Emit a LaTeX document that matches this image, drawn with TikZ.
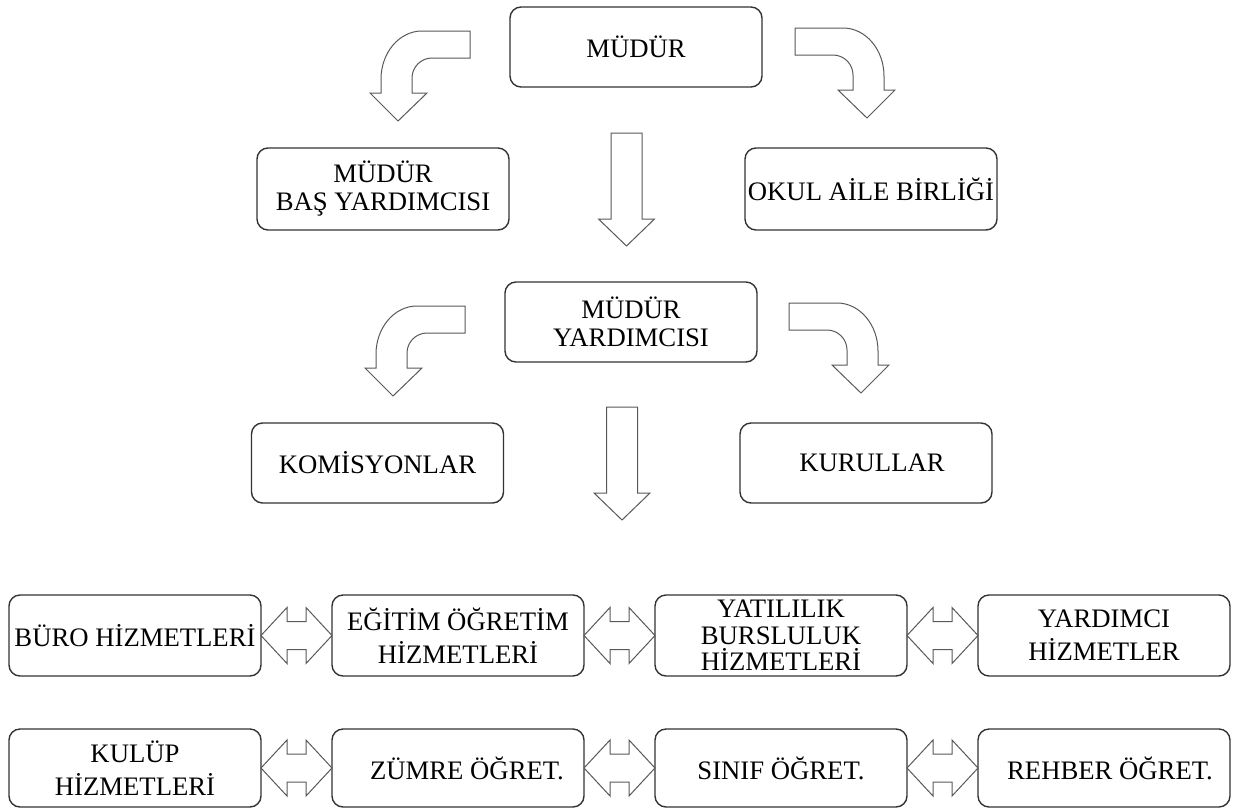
\documentclass[tikz,border=0pt]{standalone}
\usepackage{fontspec}
\setmainfont{Liberation Serif}
\usetikzlibrary{positioning,calc}

\tikzset{
  box/.style={draw=black!80, line width=1.4pt, rounded corners=11pt,
    minimum width=252pt, minimum height=81pt, inner sep=1pt, outer sep=0pt,
    align=center, font=\fontsize{26.7}{28}\selectfont},
  lowbox/.style={box, font=\fontsize{26.7}{33}\selectfont},
  blk/.style={draw=black!65, line width=1pt, fill=white, line join=miter}
}

\newcommand{\bentarr}[2][]{%
  \begin{scope}[shift={(#2)},#1]
  \draw[blk] (0,0) -- (-48,0) .. controls (-71,0) and (-89,22) .. (-89,48)
    -- (-89,62) -- (-100,62) -- (-72,90) -- (-43,62) -- (-58,62) -- (-58,47)
    .. controls (-58,36) and (-49,27) .. (-38,27) -- (0,27) -- cycle;
  \end{scope}}
\newcommand{\downarr}[1]{%
  \begin{scope}[shift={(#1)}]
  \draw[blk] (-15.5,0) -- (15.5,0) -- (15.5,86) -- (28,86) -- (0,113)
    -- (-28,86) -- (-15.5,86) -- cycle;
  \end{scope}}
\newcommand{\dblarr}[2]{%
  \draw[blk] (#1.east) -- ++(26,-28) -- ++(0,14) -- ($(#2.west)+(-26,-14)$)
    -- ++(0,-14) -- (#2.west) -- ++(-26,28) -- ++(0,-14)
    -- ($(#1.east)+(26,14)$) -- ++(0,14) -- cycle;}

\begin{document}
\begin{tikzpicture}[x=1pt,y=-1pt]
\useasboundingbox (0,0) rectangle (1234,809);

\node[box, minimum height=80pt] (mudur) at (636,47) {MÜDÜR};
\node[box, minimum height=82pt] (basyrd) at (383,189) {MÜDÜR\\BAŞ YARDIMCISI};
\node[box, minimum height=82pt] (okul) at (871,189) {OKUL AİLE BİRLİĞİ};
\node[box, minimum height=80pt] (myrd) at (631,322) {MÜDÜR\\YARDIMCISI};
\node[box, minimum height=80pt] (komisyon) at (377.5,463) {KOMİSYONLAR};
\node[box, minimum height=80pt] (kurul) at (866,463) {\hspace*{12pt}KURULLAR};

\node[lowbox] (buro) at (135,635.5) {BÜRO HİZMETLERİ};
\node[lowbox, right=71pt of buro] (egitim) {EĞİTİM ÖĞRETİM\\HİZMETLERİ};
\node[lowbox, right=71pt of egitim, font=\fontsize{26.7}{26.5}\selectfont] (yatili) {YATILILIK\\BURSLULUK\\HİZMETLERİ};
\node[lowbox, right=71pt of yatili] (yrdhiz) {YARDIMCI\\HİZMETLER};

\node[lowbox, minimum height=78pt] (kulup) at (135,768) {KULÜP\\HİZMETLERİ};
\node[lowbox, minimum height=78pt, right=71pt of kulup] (zumre) {\hspace*{18pt}ZÜMRE ÖĞRET.};
\node[lowbox, minimum height=78pt, right=71pt of zumre] (sinif) {SINIF ÖĞRET.};
\node[lowbox, minimum height=78pt, right=71pt of sinif] (rehber) {\hspace*{12pt}REHBER ÖĞRET.};

\coordinate (bl1) at (470,31);
\coordinate (br1) at (795,28);
\coordinate (bl2) at (465,306);
\coordinate (br2) at (789,303);
\coordinate (dn1) at (626.5,133);
\coordinate (dn2) at (622,407);

\bentarr{bl1}
\bentarr[xscale=-1]{br1}
\bentarr{bl2}
\bentarr[xscale=-1]{br2}
\downarr{dn1}
\downarr{dn2}

\dblarr{buro}{egitim}
\dblarr{egitim}{yatili}
\dblarr{yatili}{yrdhiz}
\dblarr{kulup}{zumre}
\dblarr{zumre}{sinif}
\dblarr{sinif}{rehber}
\end{tikzpicture}
\end{document}
